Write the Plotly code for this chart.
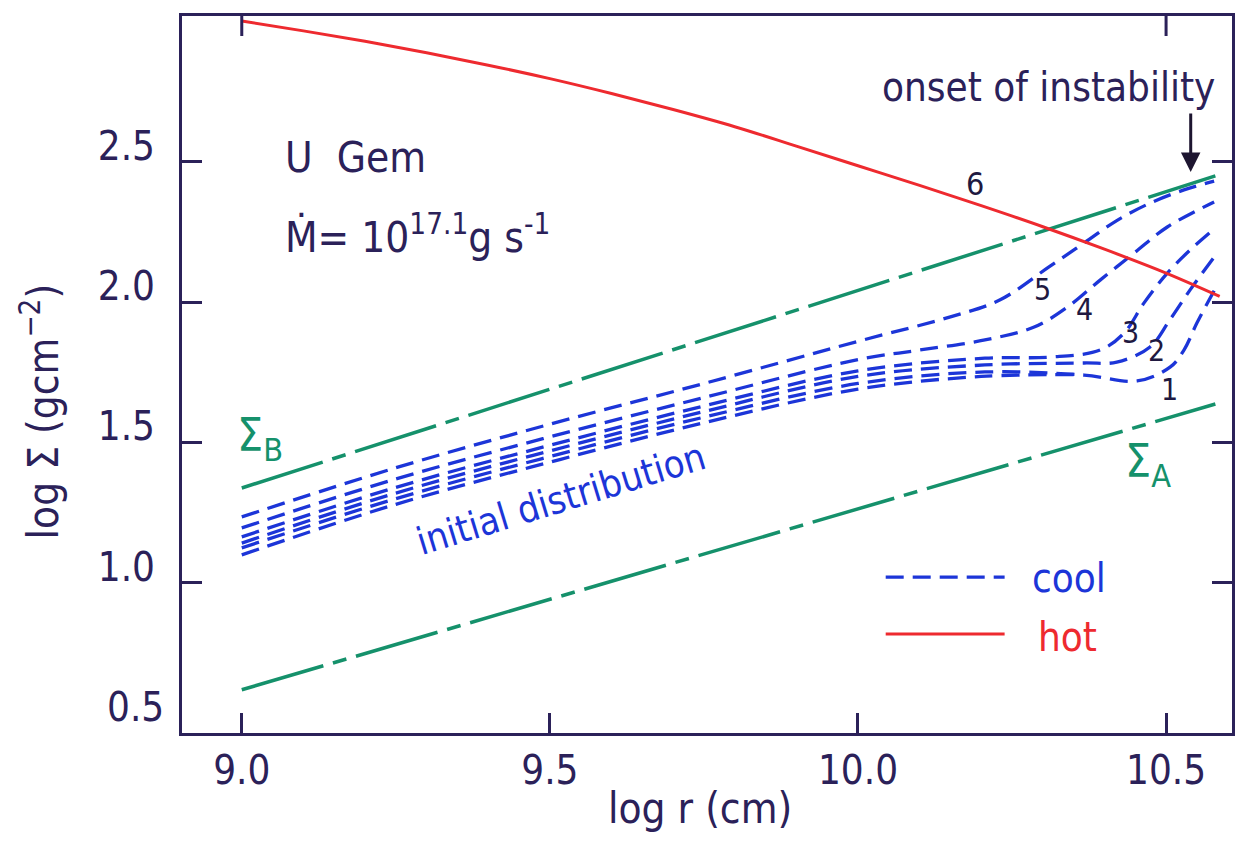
import plotly.graph_objects as go

# ---------------- data ----------------
x_hot = [9.0, 9.1, 9.2, 9.3, 9.4, 9.5, 9.6, 9.7, 9.8, 9.9, 10.0, 10.1, 10.2, 10.3, 10.4, 10.5, 10.587]
y_hot = [3.0, 2.965, 2.928, 2.887, 2.843, 2.795, 2.742, 2.685, 2.624, 2.555, 2.485, 2.415, 2.343, 2.268, 2.188, 2.103, 2.02]

x_sigma = [9.0, 10.58]
y_sigma_B = [1.338, 2.449]
y_sigma_A = [0.62, 1.637]

x_init = [9.0, 9.25, 9.5, 9.75, 10.0, 10.2, 10.35]
y_init = [1.10, 1.28, 1.43, 1.57, 1.69, 1.735, 1.742]

x_c1 = [9.0, 9.25, 9.5, 9.75, 10.0, 10.206, 10.367, 10.453, 10.507, 10.529, 10.55, 10.578]
y_c1 = [1.125, 1.30, 1.45, 1.59, 1.71, 1.751, 1.74, 1.719, 1.769, 1.829, 1.925, 2.04]

x_c2 = [9.0, 9.25, 9.5, 9.75, 10.0, 10.206, 10.367, 10.42, 10.474, 10.506, 10.539, 10.578]
y_c2 = [1.142, 1.32, 1.47, 1.61, 1.735, 1.776, 1.783, 1.786, 1.84, 1.936, 2.043, 2.16]

x_c3 = [9.0, 9.25, 9.5, 9.75, 10.0, 10.206, 10.312, 10.393, 10.432, 10.464, 10.502, 10.539, 10.578]
y_c3 = [1.164, 1.34, 1.49, 1.63, 1.755, 1.80, 1.804, 1.829, 1.89, 1.996, 2.103, 2.185, 2.26]

x_c4 = [9.0, 9.25, 9.5, 9.75, 10.0, 10.1, 10.206, 10.286, 10.34, 10.393, 10.448, 10.502, 10.578]
y_c4 = [1.196, 1.37, 1.52, 1.66, 1.795, 1.829, 1.865, 1.911, 1.982, 2.078, 2.174, 2.267, 2.356]

x_c5 = [9.0, 9.25, 9.5, 9.75, 10.0, 10.15, 10.23, 10.31, 10.367, 10.42, 10.474, 10.529, 10.578]
y_c5 = [1.235, 1.41, 1.565, 1.71, 1.86, 1.947, 2.007, 2.125, 2.21, 2.29, 2.352, 2.399, 2.43]

x_ticks = [9.0, 9.5, 10.0, 10.5]
x_ticktext = ["9.0", "9.5", "10.0", "10.5"]
x_top_ticks = [9.0, 10.5]
y_ticks = [0.5, 1.0, 1.5, 2.0, 2.5]
y_ticktext = ["0.5", "1.0", "1.5", "2.0", "2.5"]

curve_labels = ["1", "2", "3", "4", "5", "6"]
curve_label_x = [10.506, 10.485, 10.442, 10.367, 10.30, 10.19]
curve_label_y = [1.687, 1.829, 1.89, 1.972, 2.043, 2.42]

# ---------------- style ----------------
AX = "#2b2159"
BLUE = "#1c35d8"
RED = "#ee2a2f"
GREEN = "#15916b"
FONT = "Liberation Sans Narrow, DejaVu Sans Condensed, Liberation Sans, sans-serif"
BLUE_DASH = "18px,9px"
GREEN_DASH = "85px,10px,14px,10px"
PLOT_H = 844 - 16 - 111

fig = go.Figure()

for ys in (y_sigma_B, y_sigma_A):
    fig.add_trace(go.Scatter(x=x_sigma, y=ys, mode="lines",
                             line=dict(color=GREEN, width=3.5, dash=GREEN_DASH),
                             showlegend=False, hoverinfo="skip"))

for xs, ys in [(x_init, y_init), (x_c1, y_c1), (x_c2, y_c2), (x_c3, y_c3),
               (x_c4, y_c4), (x_c5, y_c5)]:
    fig.add_trace(go.Scatter(x=xs, y=ys, mode="lines", line_shape="spline",
                             line=dict(color=BLUE, width=3.3, dash=BLUE_DASH),
                             showlegend=False, hoverinfo="skip"))

fig.add_trace(go.Scatter(x=x_hot, y=y_hot, mode="lines", line_shape="spline",
                         line=dict(color=RED, width=3), showlegend=False, hoverinfo="skip"))

XR = [8.903, 10.607]
YR = [0.466, 3.018]

fig.update_layout(
    width=1241, height=844,
    margin=dict(l=182, r=6, t=16, b=111),
    paper_bgcolor="white", plot_bgcolor="white",
    font=dict(family=FONT, color=AX, size=40),
    xaxis=dict(range=XR, tickmode="array", tickvals=x_ticks, ticktext=x_ticktext,
               showline=True, linewidth=3, linecolor=AX, mirror=True,
               ticks="inside", ticklen=20, tickwidth=3, tickcolor=AX,
               showgrid=False, zeroline=False,
               tickfont=dict(size=40, color=AX, family=FONT)),
    yaxis=dict(range=YR, tickmode="array", tickvals=y_ticks[1:], ticktext=y_ticktext[1:],
               showline=True, linewidth=3, linecolor=AX, mirror="ticks",
               ticks="inside", ticklen=20, tickwidth=3, tickcolor=AX,
               showgrid=False, zeroline=False, ticklabelstandoff=16,
               ticklabelshift=-16,
               tickfont=dict(size=40, color=AX, family=FONT)),
)

# top-edge ticks (only at 9.0 and 10.5 in the original)
for xt in x_top_ticks:
    fig.add_shape(type="line", xref="x", yref="paper", x0=xt, x1=xt,
                  y0=1, y1=1 - 20 / PLOT_H, line=dict(color=AX, width=3))

ann = []
# the 0.5 label (no tick mark at that level in the original)
ann.append(dict(xref="paper", yref="y", x=0, y=y_ticks[0], xanchor="right", yanchor="middle",
                xshift=-16, yshift=16, text=y_ticktext[0], showarrow=False,
                font=dict(size=40, color=AX, family=FONT)))
# axis titles
ann.append(dict(xref="paper", yref="paper", x=(701 - 182) / (1235 - 182), y=-(808 - 733) / (733 - 16),
                text="log r (cm)", showarrow=False, xanchor="center", yanchor="middle",
                font=dict(size=42, color=AX, family=FONT)))
ann.append(dict(xref="paper", yref="paper", x=-(182 - 40) / (1235 - 182), y=(733 - 411) / (733 - 16),
                text="log Σ (gcm<sup>−2</sup>)", textangle=-90, showarrow=False,
                xanchor="center", yanchor="middle",
                font=dict(size=42, color=AX, family=FONT)))
# texts
ann.append(dict(x=9.0 + (283 - 242) / 618, y=1 + (583 - 157) / 281, xanchor="left", yanchor="middle",
                text="U  Gem", showarrow=False, font=dict(size=42, color=AX, family=FONT)))
ann.append(dict(x=9.0 + (283 - 242) / 618, y=1 + (583 - 234) / 281, xanchor="left", yanchor="middle",
                text="Ṁ= 10<sup>17.1</sup>g s<sup>-1</sup>", showarrow=False,
                font=dict(size=42, color=AX, family=FONT)))
ann.append(dict(x=9.0 + (1051 - 242) / 618, y=1 + (583 - 87) / 281, xanchor="center", yanchor="middle",
                text="onset of instability", showarrow=False,
                font=dict(size=40, color=AX, family=FONT)))
# arrow to onset point
ann.append(dict(x=10.54, y=2.463, ax=10.54, ay=2.676, axref="x", ayref="y", text="",
                showarrow=True, arrowhead=2, arrowsize=1.3, arrowwidth=3, arrowcolor="#1d1530"))
for t, lx, ly in zip(curve_labels, curve_label_x, curve_label_y):
    ann.append(dict(x=lx, y=ly, text=t, showarrow=False,
                    font=dict(size=32 if t == "6" else 30, color="#201840", family=FONT)))
ann.append(dict(x=9.03, y=1.515, text="Σ<sub>B</sub>", showarrow=False,
                font=dict(size=46, color=GREEN, family=FONT)))
ann.append(dict(x=10.47, y=1.42, text="Σ<sub>A</sub>", showarrow=False,
                font=dict(size=46, color=GREEN, family=FONT)))
ann.append(dict(x=9.518, y=1.30, text="initial distribution", textangle=-17, showarrow=False,
                font=dict(size=38, color=BLUE, family=FONT)))
# legend
ann.append(dict(x=10.343, y=1.018, text="cool", showarrow=False,
                font=dict(size=40, color=BLUE, family=FONT)))
ann.append(dict(x=10.34, y=0.808, text="hot", showarrow=False,
                font=dict(size=40, color=RED, family=FONT)))
fig.update_layout(annotations=ann)

fig.add_shape(type="line", x0=10.045, x1=10.238, y0=1.021, y1=1.021, xref="x", yref="y",
              line=dict(color=BLUE, width=3.3, dash=BLUE_DASH))
fig.add_shape(type="line", x0=10.045, x1=10.238, y0=0.818, y1=0.818, xref="x", yref="y",
              line=dict(color=RED, width=3))

fig.write_html("out.html")
